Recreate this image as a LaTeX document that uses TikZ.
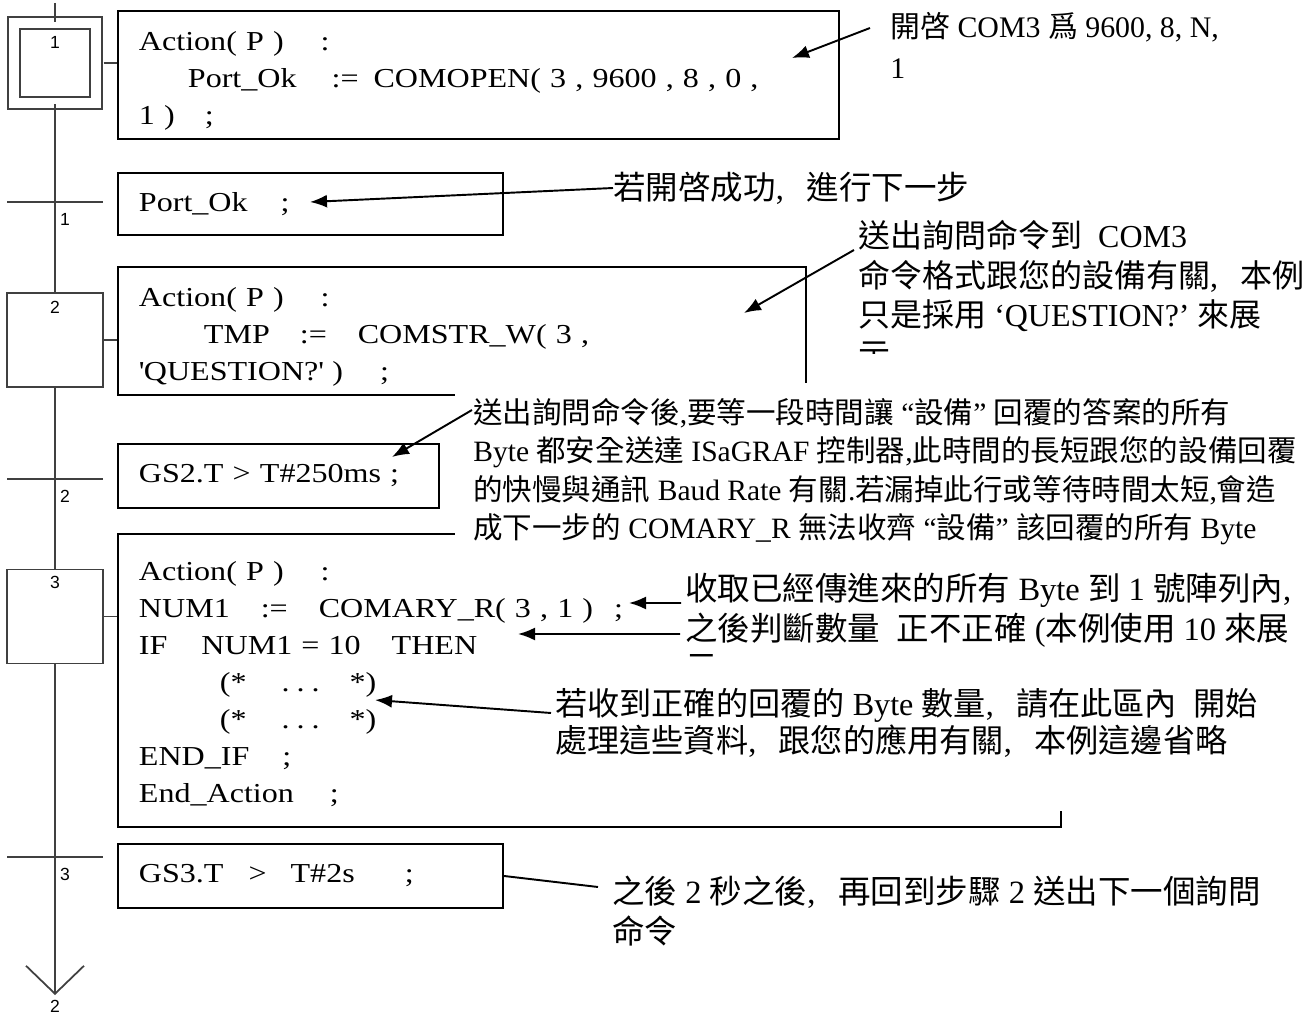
\documentclass[tikz,border=0pt]{standalone}
\usepackage{fontspec}
\setmainfont{Liberation Serif}
\newfontfamily\codefont{Liberation Serif}[FakeStretch=1.17]
\newfontfamily\cjk{Noto Sans CJK TC}
\newfontfamily\labelfont{Liberation Sans}
\definecolor{frameGray}{HTML}{404040}
\usetikzlibrary{arrows.meta,positioning}
\newcommand\codesize{\fontsize{15.6}{21}\selectfont}
\newcommand\zh[1]{{\cjk #1}}
\newcommand\zcomma{,\hspace{0.7em}}
\newcommand\codesp[1]{\hspace*{#1}}
\tikzset{
    % SFC chain
    chain line/.style={draw=frameGray, line width=1pt},
    stepbox/.style={draw=frameGray, line width=1pt, minimum width=1.92cm,
        minimum height=1.88cm, inner sep=0pt},
    initstep/.style={stepbox, double, double distance=0.2cm,
        minimum width=1.65cm, minimum height=1.61cm},
    transbar/.style={draw=frameGray, line width=1pt, minimum width=1.92cm,
        minimum height=0pt, inner sep=0pt},
    steplabel/.style={font=\labelfont\fontsize{10}{12}\selectfont,
        inner sep=0pt, anchor=north},
    translabel/.style={steplabel, xshift=0.2cm, yshift=-0.2cm},
    % ST code boxes
    codebox/.style={draw, line width=1.1pt, anchor=north west, align=left,
        text width=#1, inner xsep=0.42cm, inner ysep=0pt,
        font=\codefont\codesize},
    % comments
    note/.style={anchor=north west, align=left, inner sep=0pt,
        font=\fontsize{18.5}{22.5}\selectfont},
    mask/.style={fill=white},
    arrow/.style={-{Latex[length=0.34cm, width=0.26cm]}, line width=1.1pt},
}
\begin{document}
\begin{tikzpicture}[x=0.02cm, y=-0.02cm]
    \useasboundingbox (0,0) rectangle (1312,1017);

    % steps and transitions
    \coordinate (top) at (55,3);
    \node (s1) [initstep, label={[steplabel, yshift=-0.28cm]north:1}] at (55,63) {};
    \node (t1) [transbar, label={[translabel]below:1}] at (55,202) {};
    \node (s2) [stepbox, label={[steplabel, yshift=-0.17cm]north:2}] at (55,340) {};
    \node (t2) [transbar, label={[translabel]below:2}] at (55,479) {};
    \node (s3) [stepbox, label={[steplabel, yshift=-0.15cm]north:3}] at (55,616.5) {};
    \node (t3) [transbar, label={[translabel]below:3}] at (55,857) {};
    \coordinate (loop) at (55,995);
    \node (jump) [steplabel, below=0.1cm of loop] {2};

    \draw [chain line] (top) -- (s1);
    \draw [chain line] (s1) -- (t1) -- (s2) -- (t2) -- (s3) -- (t3);
    \draw [chain line, -{Straight Barb[length=0.56cm, width=1.16cm]}] (t3) -- (loop);

    % actions and conditions
    \node (act1) [codebox=13.58cm, minimum height=2.56cm] at (117,10) {%
        \rule{0pt}{0.62cm}Action( P )\codesp{0.74cm}:\\
        \codesp{0.98cm}Port\_Ok\codesp{0.7cm}:=\codesp{0.3cm}COMOPEN( 3 , 9600 , 8 , 0 ,\\
        1 )\codesp{0.6cm};};
    \node (cond1) [codebox=6.86cm, minimum height=1.24cm] at (117,172) {%
        Port\_Ok\codesp{0.66cm};};
    \node (act2) [codebox=12.92cm, minimum height=2.56cm] at (117,266) {%
        \rule{0pt}{0.62cm}Action( P )\codesp{0.74cm}:\\
        \codesp{1.3cm}TMP\codesp{0.6cm}:=\codesp{0.62cm}COMSTR\_W( 3 ,\\
        \textquotesingle QUESTION?\textquotesingle\ )\codesp{0.74cm};};
    \node (cond2) [codebox=5.58cm, minimum height=1.28cm] at (117,443) {%
        GS2.T > T\#250ms ;};
    \node (act3) [codebox=18.02cm, minimum height=5.86cm] at (117,533) {%
        \rule{0pt}{0.53cm}Action( P )\codesp{0.74cm}:\\
        NUM1\codesp{0.62cm}:=\codesp{0.62cm}COMARY\_R( 3 , 1 )\codesp{0.42cm};\\
        IF\codesp{0.68cm}NUM1 = 10\codesp{0.62cm}THEN\\
        \codesp{1.62cm}(*\codesp{0.7cm}.\codesp{0.14cm}.\codesp{0.14cm}.\codesp{0.6cm}*)\\
        \codesp{1.62cm}(*\codesp{0.7cm}.\codesp{0.14cm}.\codesp{0.14cm}.\codesp{0.6cm}*)\\
        END\_IF\codesp{0.66cm};\\
        End\_Action\codesp{0.72cm};};
    \node (cond3) [codebox=6.86cm, minimum height=1.28cm] at (117,843) {%
        GS3.T\codesp{0.5cm}>\codesp{0.48cm}T\#2s\codesp{1.0cm};};

    \draw [chain line] ([xshift=0.13cm]s1.east) -- (s1 -| act1.west);
    \draw [chain line] (s2) -- (s2 -| act2.west);
    \draw [chain line] (s3) -- (s3 -| act3.west);

    % comments, with the text boxes hiding the frames below them
    \node (note1) [note, font=\fontsize{17}{23.5}\selectfont] at (890,12)
        {\zh{開啓} COM3 \zh{爲} 9600, 8, N,\\ 1};
    \node (note2) [note, anchor=west] at (613,188)
        {\zh{若開啓成功}\zcomma\zh{進行下一步}};
    \node (note3) [note, font=\fontsize{18.2}{22.5}\selectfont] at (858,220)
        {\zh{送出詢問命令到}\ \ COM3\\
         \zh{命令格式跟您的設備有關}\zcomma\zh{本例}\\
         \zh{只是採用} ‘QUESTION?’ \zh{來展}\\
         \zh{示}};
    \fill [mask] (850,354) rectangle (1312,381);
    \fill [mask] (455,383) rectangle (1305,548);
    \node (note4) [note, font=\fontsize{16.8}{21.8}\selectfont] at (473,398)
        {\zh{送出詢問命令後},\zh{要等一段時間讓} “\zh{設備}” \zh{回覆的答案的所有}\\
         Byte \zh{都安全送達} ISaGRAF \zh{控制器},\zh{此時間的長短跟您的設備回覆}\\
         \zh{的快慢與通訊} Baud Rate \zh{有關}.\zh{若漏掉此行或等待時間太短},\zh{會造}\\
         \zh{成下一步的} COMARY\_R \zh{無法收齊} “\zh{設備}” \zh{該回覆的所有} Byte};
    \fill [mask] (682,548) rectangle (1305,660);
    \node (note5) [note] at (685,573)
        {\zh{收取已經傳進來的所有} Byte \zh{到} 1 \zh{號陣列內},\\
         \zh{之後判斷數量}\ \ \zh{正不正確} (\zh{本例使用} 10 \zh{來展}\\
         \zh{示}};
    \fill [mask] (550,660) rectangle (1305,811);
    \node (note6) [note, font=\fontsize{18.3}{21}\selectfont] at (555,688)
        {\zh{若收到正確的回覆的} Byte \zh{數量}\zcomma\zh{請在此區內}\ \ \zh{開始}\\
         \zh{處理這些資料}\zcomma\zh{跟您的應用有關}\zcomma\zh{本例這邊省略}};
    \node (note7) [note] at (612,876)
        {\zh{之後} 2 \zh{秒之後}\zcomma\zh{再回到步驟} 2 \zh{送出下一個詢問}\\
         \zh{命令}};

    % pointers
    \coordinate (h1) at (792,58);
    \coordinate (h2) at (310,202);
    \coordinate (h3) at (744,313);
    \coordinate (h4) at (392,457);
    \coordinate (h5) at (629,603);
    \coordinate (h6) at (518,634);
    \coordinate (h7) at (375,700);
    \draw [arrow] ([xshift=-0.4cm, yshift=-0.32cm]note1.north west) -- (h1);
    \draw [arrow] (note2.west) -- (h2);
    \draw [arrow] ([xshift=-0.08cm, yshift=-0.6cm]note3.north west) -- (h3);
    \draw [arrow] ([xshift=-0.02cm, yshift=-0.24cm]note4.north west) -- (h4);
    \draw [arrow] ([xshift=-0.08cm, yshift=-0.6cm]note5.north west) -- (h5);
    \draw [arrow] ([xshift=-0.1cm, yshift=-1.22cm]note5.north west) -- (h6);
    \draw [arrow] ([xshift=-0.08cm, yshift=-0.5cm]note6.north west) -- (h7);
    \draw [line width=1.1pt] (cond3.east) -- ([xshift=-0.28cm, yshift=-0.22cm]note7.north west);
\end{tikzpicture}
\end{document}
